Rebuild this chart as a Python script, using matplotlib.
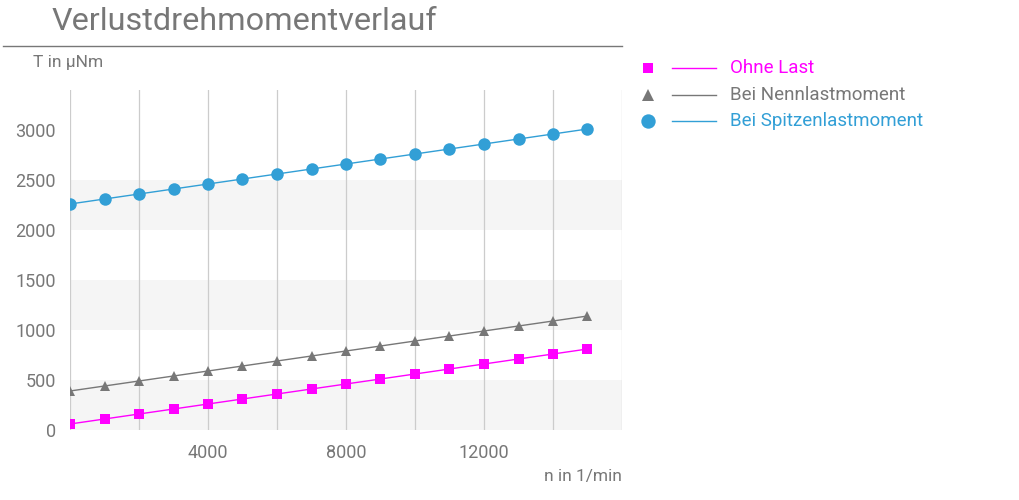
import matplotlib
matplotlib.use("Agg")
import matplotlib.pyplot as plt
from matplotlib.lines import Line2D

plt.rcParams['font.family'] = ['Roboto', 'DejaVu Sans']

# Drehzahl in 1/min
n = [0, 1000, 2000, 3000, 4000, 5000, 6000, 7000, 8000, 9000, 10000,
     11000, 12000, 13000, 14000, 15000]
# Verlustdrehmoment in µNm
ohne_last = [60, 110, 160, 210, 260, 310, 360, 410, 460, 510, 560,
             610, 660, 710, 760, 810]
nennlast = [390, 440, 490, 540, 590, 640, 690, 740, 790, 840, 890,
            940, 990, 1040, 1090, 1140]
spitzenlast = [2260, 2310, 2360, 2410, 2460, 2510, 2560, 2610, 2660, 2710,
               2760, 2810, 2860, 2910, 2960, 3010]

serien = ['Ohne Last', 'Bei Nennlastmoment', 'Bei Spitzenlastmoment']
farben = ['#ff00ff', '#777777', '#329fd6']
marker = ['s', '^', 'o']
msize = [6.5, 7.5, 9]

xticks = [4000, 8000, 12000]
yticks = [0, 500, 1000, 1500, 2000, 2500, 3000]
txt = '#777777'

fig = plt.figure(figsize=(10.2, 5.0), dpi=100)
ax = fig.add_axes([70/1020, 70/500, 552/1020, 340/500])

for lo in (0, 1000, 2000):
    ax.axhspan(lo, lo + 500, color='#f5f5f5', zorder=0, lw=0)
for xv in range(0, 16001, 2000):
    ax.axvline(xv, color='#cccccc', lw=0.9, zorder=1)

for y, name, c, m, s in zip([ohne_last, nennlast, spitzenlast], serien, farben, marker, msize):
    ax.plot(n, y, color=c, lw=1, marker=m, markersize=s, markeredgewidth=0, zorder=3)

ax.set_xlim(0, 16000)
ax.set_ylim(0, 3400)
ax.set_xticks(xticks)
ax.set_yticks(yticks)
ax.tick_params(length=0, labelsize=13, colors=txt, pad=10)
for sp in ax.spines.values():
    sp.set_visible(False)

fig.text(52/1020, 1 - 22/500, 'Verlustdrehmomentverlauf', fontsize=23.3, color=txt,
         va='center', ha='left')
fig.add_artist(Line2D([3/1020, 622/1020], [1 - 46/500, 1 - 46/500], color='#777777', lw=1))
fig.text(33/1020, 1 - 63/500, 'T in µNm', fontsize=12.5, color=txt, va='center', ha='left')
fig.text(622/1020, 1 - 477/500, 'n in 1/min', fontsize=12.5, color=txt, va='center', ha='right')

# Legende
for i, (name, c, m, s) in enumerate(zip(serien, farben, marker, msize)):
    yy = 1 - (68 + i * 26.5) / 500
    fig.add_artist(Line2D([648/1020], [yy], marker=m, color=c, markersize=s * 1.15,
                          markeredgewidth=0, linestyle='none'))
    fig.add_artist(Line2D([672/1020, 716/1020], [yy, yy], color=c, lw=1))
    fig.text(730/1020, yy, name, fontsize=13.5, color=c, va='center', ha='left')

fig.savefig('out.png', dpi=100)
